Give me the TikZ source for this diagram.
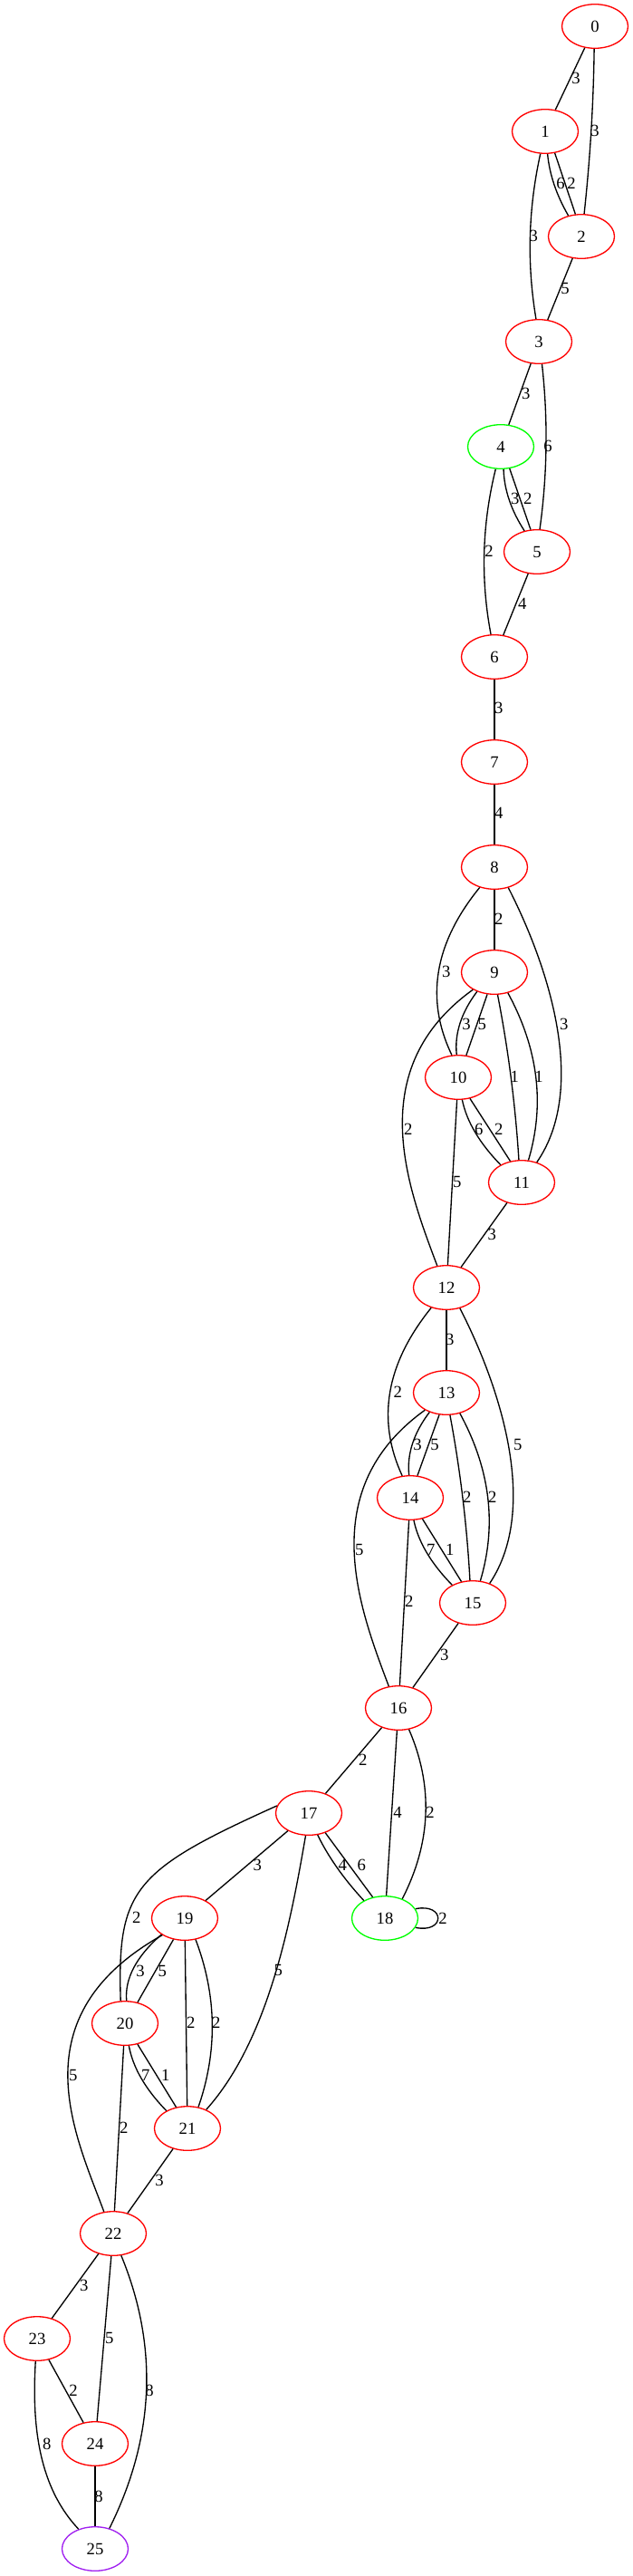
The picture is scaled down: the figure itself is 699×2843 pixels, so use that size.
\documentclass[tikz,border=0pt]{standalone}
\usepackage{fontspec}
\setmainfont{Liberation Serif}
\usetikzlibrary{shapes.geometric,calc}
\definecolor{gvred}{RGB}{255,0,0}
\definecolor{gvgreen}{RGB}{0,255,0}
\definecolor{gvpurple}{RGB}{160,32,240}
\newcommand{\bedge}[4]{\draw[edge] (#1) .. controls ($(#1)!1/3!(#2)+(#3,#4)$) and ($(#1)!2/3!(#2)+(#3,#4)$) .. (#2);}
\begin{document}
\begin{tikzpicture}[x=0.75pt,y=-0.75pt,
  gnode/.style={ellipse,draw=gvred,line width=1pt,minimum width=54.75pt,minimum height=36.45pt,inner sep=0pt,font=\fontsize{14}{16}\selectfont},
  gnodeg/.style={gnode,draw=gvgreen},
  gnodep/.style={gnode,draw=gvpurple},
  edge/.style={draw=black,line width=1pt},
  lbl/.style={inner sep=0pt,font=\fontsize{14}{16}\selectfont}]
\fill[white] (0,0) rectangle (699,2843);
\useasboundingbox (0,0) rectangle (699,2843);
% nodes
\node[gnode] (n0) at (657,29) {0};
\node[gnode] (n1) at (602,145) {1};
\node[gnode] (n2) at (642,261) {2};
\node[gnode] (n3) at (595,377) {3};
\node[gnodeg] (n4) at (553,493) {4};
\node[gnode] (n5) at (593,609) {5};
\node[gnode] (n6) at (546,725) {6};
\node[gnode] (n7) at (546,841) {7};
\node[gnode] (n8) at (546,957) {8};
\node[gnode] (n9) at (546,1073) {9};
\node[gnode] (n10) at (506,1189) {10};
\node[gnode] (n11) at (576,1305) {11};
\node[gnode] (n12) at (493,1421) {12};
\node[gnode] (n13) at (493,1537) {13};
\node[gnode] (n14) at (453,1653) {14};
\node[gnode] (n15) at (522,1769) {15};
\node[gnode] (n16) at (440,1885) {16};
\node[gnode] (n17) at (341,2001) {17};
\node[gnodeg] (n18) at (425,2117) {18};
\node[gnode] (n19) at (204,2117) {19};
\node[gnode] (n20) at (138,2233) {20};
\node[gnode] (n21) at (207,2349) {21};
\node[gnode] (n22) at (125,2465) {22};
\node[gnode] (n23) at (41,2581) {23};
\node[gnode] (n24) at (105,2697) {24};
\node[gnodep] (n25) at (105,2813) {25};
% straight edges
\draw[edge] (n0) -- (n1);
\draw[edge] (n2) -- (n3);
\draw[edge] (n3) -- (n4);
\draw[edge] (n5) -- (n6);
\draw[edge] (n6) -- (n7);
\draw[edge] (n7) -- (n8);
\draw[edge] (n8) -- (n9);
\draw[edge] (n10) -- (n12);
\draw[edge] (n11) -- (n12);
\draw[edge] (n12) -- (n13);
\draw[edge] (n14) -- (n16);
\draw[edge] (n15) -- (n16);
\draw[edge] (n16) -- (n17);
\draw[edge] (n16) -- (n18);
\draw[edge] (n17) -- (n19);
\draw[edge] (n19) -- (n21);
\draw[edge] (n20) -- (n22);
\draw[edge] (n21) -- (n22);
\draw[edge] (n22) -- (n23);
\draw[edge] (n22) -- (n24);
\draw[edge] (n23) -- (n24);
\draw[edge] (n24) -- (n25);
% straight parallel edges
\draw[edge] (n1.-66.8) -- (n2.105.3);
\draw[edge] (n4.-68.8) -- (n5.106.3);
\draw[edge] (n9.-108.4) -- (n10.70.9);
\draw[edge] (n10.-61.9) -- (n11.118.9);
\draw[edge] (n13.-108.4) -- (n14.72);
\draw[edge] (n14.-60.3) -- (n15.118.9);
\draw[edge] (n17.-50.6) -- (n18.120);
\draw[edge] (n19.-118.1) -- (n20.59.2);
\draw[edge] (n20.-59.2) -- (n21.118.9);
% bulging edges
\bedge{n0.-92}{n2.83}{2.9}{0}
\bedge{n1.-84.5}{n2.122.6}{-5.5}{0}
\bedge{n1.-102.5}{n3.97.8}{-11.9}{0}
\bedge{n3.-82}{n5.83.6}{7.6}{0}
\bedge{n4.-83.6}{n5.121.5}{-7}{0}
\bedge{n4.-103.4}{n6.99.5}{-13.3}{0}
\bedge{n8.-126.8}{n10.106.9}{-40}{0}
\bedge{n9.-132.6}{n10.94}{-10}{0}
\bedge{n9.-82.3}{n11.97.8}{4}{0}
\bedge{n9.-57.7}{n11.73.1}{26}{0}
\bedge{n10.-80.4}{n11.140.5}{-9.2}{0}
\bedge{n12.-127.3}{n14.110.2}{-39.3}{0}
\bedge{n13.-131.8}{n14.93}{-10}{0}
\bedge{n13.-81.2}{n15.97.3}{4}{0}
\bedge{n13.-57.4}{n15.71.6}{26}{0}
\bedge{n14.-81.5}{n15.139.4}{-9.2}{0}
\bedge{n16.-64.7}{n18.48}{29.5}{0}
\bedge{n17.-68.6}{n18.140}{-5.3}{0}
\bedge{n19.-145.2}{n20.86.9}{-15}{0}
\bedge{n19.-63.1}{n21.63.1}{22.4}{0}
\bedge{n20.-80.1}{n21.140.4}{-9.5}{0}
\bedge{n22.-70.9}{n25.55.3}{45.7}{0}
% explicitly shaped edges
\draw[edge] (n8.-56.6) .. controls (605,1065) and (650,1200) .. (n11.53.4);
\draw[edge] (n12.-57.3) .. controls (551.6,1529) and (596.6,1664) .. (n15.49);
\draw[edge] (n9.-141.5) .. controls (400,1180) and (450,1310) .. (n12.113.5);
\draw[edge] (n13.-141.4) .. controls (346.6,1644.4) and (396.6,1774.4) .. (n16.114.2);
\draw[edge] (n17.167.5) .. controls (146.7,2064.5) and (129.4,2085.6) .. (n20.101.2);
\draw[edge] (n17.-98.8) .. controls (322,2115) and (298,2250) .. (n21.45.8);
\draw[edge] (n19.-143.5) .. controls (18.3,2226) and (83.3,2356) .. (n22.113.2);
\draw[edge] (n23.-94.6) .. controls (34,2690) and (48,2750) .. (n25.130.7);
\draw[edge] (n18.17) .. controls (492,2100) and (492,2134) .. (n18.-17);
% labels
\node[lbl] (l01) at (636,86.7) {3};
\node[lbl] (l02) at (657,144) {3};
\node[lbl] (l12a) at (619,202) {6};
\node[lbl] (l12b) at (631,202) {2};
\node[lbl] (l13) at (589.3,260) {3};
\node[lbl] (l23) at (624,318) {5};
\node[lbl] (l34) at (580.7,434) {3};
\node[lbl] (l35) at (605,492.7) {6};
\node[lbl] (l45a) at (568.7,550) {3};
\node[lbl] (l45b) at (582.7,550) {2};
\node[lbl] (l46) at (540,608) {2};
\node[lbl] (l56) at (576.7,666.7) {4};
\node[lbl] (l67) at (550.7,781.7) {3};
\node[lbl] (l78) at (550.7,897.7) {4};
\node[lbl] (l89) at (550.7,1014.3) {2};
\node[lbl] (l810) at (492.7,1072.7) {3};
\node[lbl] (l811) at (622.7,1130) {3};
\node[lbl] (l910a) at (515,1130.7) {3};
\node[lbl] (l910b) at (532.3,1130.7) {5};
\node[lbl] (l911a) at (568.3,1188.3) {1};
\node[lbl] (l911b) at (595,1188.3) {1};
\node[lbl] (l912) at (450.7,1246.7) {2};
\node[lbl] (l1011a) at (528.7,1246.7) {6};
\node[lbl] (l1011b) at (550.7,1246.7) {2};
\node[lbl] (l1012) at (504.7,1304) {5};
\node[lbl] (l1112) at (543.3,1362.7) {3};
\node[lbl] (l1213) at (496.7,1478.3) {3};
\node[lbl] (l1214) at (439.3,1536.7) {2};
\node[lbl] (l1215) at (571.7,1594) {5};
\node[lbl] (l1314a) at (461,1594.3) {3};
\node[lbl] (l1314b) at (480,1594.3) {5};
\node[lbl] (l1315a) at (515.7,1652.7) {2};
\node[lbl] (l1315b) at (543.7,1652.7) {2};
\node[lbl] (l1316) at (396.7,1710) {5};
\node[lbl] (l1415a) at (475.7,1710) {7};
\node[lbl] (l1415b) at (496.7,1710) {1};
\node[lbl] (l1416) at (451.7,1767.7) {2};
\node[lbl] (l1516) at (490.7,1826) {3};
\node[lbl] (l1617) at (400.7,1942.3) {2};
\node[lbl] (l1618a) at (439,2000) {4};
\node[lbl] (l1618b) at (475,2000) {2};
\node[lbl] (l1718a) at (378.3,2058.3) {4};
\node[lbl] (l1718b) at (399.3,2058.3) {6};
\node[lbl] (l1818) at (489,2117) {2};
\node[lbl] (l1719) at (284.3,2058.3) {3};
\node[lbl] (l1720) at (150.7,2116.5) {2};
\node[lbl] (l1721) at (307.3,2174) {5};
\node[lbl] (l1920a) at (155,2175) {3};
\node[lbl] (l1920b) at (179.3,2175) {5};
\node[lbl] (l1921a) at (210.7,2232.7) {2};
\node[lbl] (l1921b) at (238.7,2232.7) {2};
\node[lbl] (l1922) at (80.7,2290.7) {5};
\node[lbl] (l2021a) at (160.7,2290.7) {7};
\node[lbl] (l2021b) at (182.7,2290.7) {1};
\node[lbl] (l2022) at (136.7,2348.3) {2};
\node[lbl] (l2122) at (176,2406) {3};
\node[lbl] (l2223) at (92.7,2522) {3};
\node[lbl] (l2224) at (120.7,2580.6) {5};
\node[lbl] (l2225) at (165,2638.5) {8};
\node[lbl] (l2324) at (81,2638.5) {2};
\node[lbl] (l2325) at (51.7,2696.9) {8};
\node[lbl] (l2425) at (109,2754.9) {8};
\end{tikzpicture}
\end{document}
